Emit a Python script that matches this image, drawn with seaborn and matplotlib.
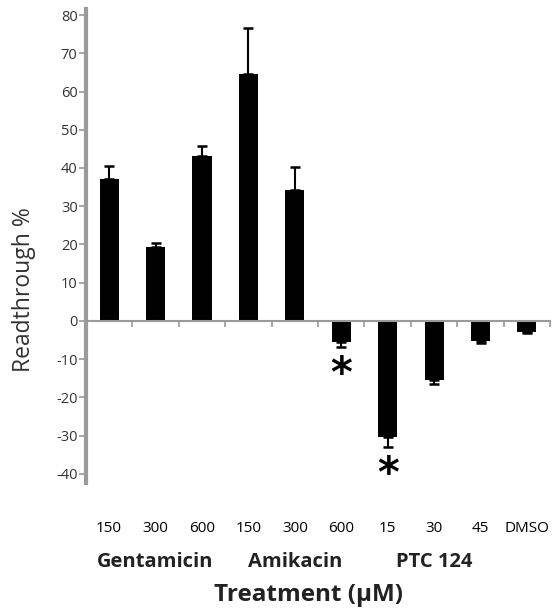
import matplotlib
matplotlib.use("Agg")
import matplotlib.pyplot as plt
import matplotlib.transforms as mtransforms
import seaborn as sns
import pandas as pd
import numpy as np

# ---- data ----
groups = ["Gentamicin", "Gentamicin", "Gentamicin", "Amikacin", "Amikacin",
          "Amikacin", "PTC 124", "PTC 124", "PTC 124", "DMSO"]
dose_labels = ["150", "300", "600", "150", "300", "600", "15", "30", "45", "DMSO"]
readthrough = [37.1, 19.3, 43.0, 64.7, 34.3, -5.5, -30.4, -15.4, -5.2, -2.9]
err = [3.4, 1.0, 2.8, 12.0, 5.9, 1.4, 2.6, 1.1, 0.7, 0.2]
significant = [False, False, False, False, False, True, True, False, False, False]
group_names = ["Gentamicin", "Amikacin", "PTC 124"]
y_ticks = [-40, -30, -20, -10, 0, 10, 20, 30, 40, 50, 60, 70, 80]

ids = [f"{g} {d} #{i}" for i, (g, d) in enumerate(zip(groups, dose_labels))]
df = pd.DataFrame({"id": ids, "value": readthrough, "err": err})

sns.set_theme(style="white")
plt.rcParams["font.family"] = ["Open Sans", "DejaVu Sans"]

fig = plt.figure(figsize=(5.58, 6.12), dpi=100)
ax = fig.add_axes([0.154, 0.2108, 0.832, 0.774])

sns.barplot(data=df, x="id", y="value", color="black", width=0.41,
            saturation=1, errorbar=None, ax=ax, order=ids,
            edgecolor="black", linewidth=0)

pos = np.arange(len(ids))
vals = np.array(readthrough)
errs = np.array(err)
lower = np.where(vals < 0, errs, 0)
upper = np.where(vals > 0, errs, 0)
ax.errorbar(pos, vals, yerr=[lower, upper], fmt="none", ecolor="black",
            elinewidth=1.5, capsize=3.5, capthick=1.8)

for p, v, e, s in zip(pos, vals, errs, significant):
    if s:
        ax.annotate("*", xy=(p, v - e), xytext=(0, -20), textcoords="offset points",
                    ha="center", va="center", fontsize=30, fontweight="bold",
                    color="black", family="DejaVu Sans")

ax.set_xlim(-0.5, len(ids) - 0.5)
ax.set_ylim(-42.4, 81.5)
ax.set_yticks(y_ticks)
ax.set_yticklabels([str(t) for t in y_ticks], fontsize=10.5, color="#333333")
ax.set_xticks(np.arange(len(ids)) + 0.5)
ax.set_xticklabels([])

gray = "#9a9a9a"
for side in ["top", "right"]:
    ax.spines[side].set_visible(False)
ax.spines["left"].set_color(gray)
ax.spines["left"].set_linewidth(3)
ax.spines["bottom"].set_position(("data", 0))
ax.spines["bottom"].set_color(gray)
ax.spines["bottom"].set_linewidth(1.5)
ax.tick_params(axis="y", direction="out", length=5, width=1.2, color=gray, pad=1, left=True)
ax.tick_params(axis="x", direction="out", length=4, width=1.2, color=gray, bottom=True)
ax.grid(False)

trans = mtransforms.blended_transform_factory(ax.transData, fig.transFigure)
for p, lab in zip(pos, dose_labels):
    ax.text(p, 1 - 528 / 612, lab, transform=trans, ha="center", va="center",
            fontsize=11, color="black")

for g in group_names:
    idx = [i for i, gg in enumerate(groups) if gg == g]
    ax.text(np.mean(idx), 1 - 562 / 612, g, transform=trans, ha="center", va="center",
            fontsize=14.5, fontweight="bold", color="#222222")

fig.text(308 / 558, 1 - 595 / 612, "Treatment (µM)", ha="center", va="center",
         fontsize=17.5, fontweight="bold", color="#222222")
fig.text(24 / 558, 1 - 290 / 612, "Readthrough %", ha="center", va="center",
         rotation=90, fontsize=16.5, color="#333333")
ax.set_xlabel("")
ax.set_ylabel("")

fig.savefig("out.png", dpi=100)
